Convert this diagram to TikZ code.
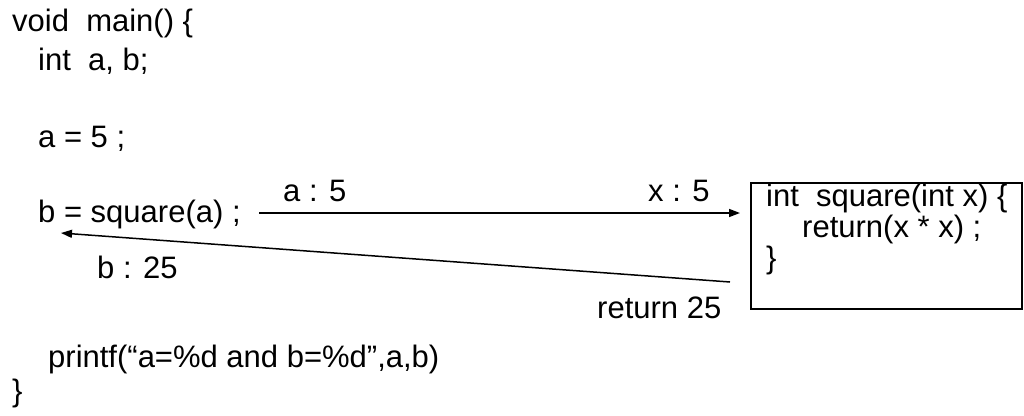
\documentclass[tikz,border=0pt]{standalone}
\usepackage{fontspec}
\setmainfont{Liberation Sans}
\usetikzlibrary{arrows.meta}
\begin{document}
\begin{tikzpicture}[x=1pt,y=-1pt,
  code/.style={anchor=base west,inner sep=0pt,font=\fontsize{31}{37}\selectfont},
  flow/.style={line width=1.5pt,-{Triangle[length=11pt,width=8pt]}},
  fnbox/.style={draw,line width=1.1pt}]
\useasboundingbox (0,0) rectangle (1024,415);
% main program
\node[code] (l1) at (12,31) {void\ \ main() \{};
\node[code] (l2) at (38,70) {int\ \ a, b;};
\node[code] (l3) at (38,147) {a = 5 ;};
\node[code] (l4) at (38,222) {b = square(a) ;};
\node[code] (l5) at (48,367) {printf(“a=\%d and b=\%d”,a,b)};
\node[code] (l6) at (12,401) {\}};
% function box
\draw[fnbox] (751,183) rectangle (1022,309);
\node[code] (f1) at (766,206) {int\ \ square(int x) \{};
\node[code] (f2) at (802,237) {return(x * x) ;};
\node[code] (f3) at (766,268) {\}};
% labels
\node[code] (la) at (283,201) {a : 5};
\node[code] (lx) at (648,201) {x : 5};
\node[code] (lb) at (97,278) {b : 25};
\node[code] (lr) at (597,318) {return 25};
% connectors
\coordinate (callS) at (259,213);
\coordinate (callE) at (740,213);
\coordinate (retS) at (730,282);
\coordinate (retE) at (61,233);
\draw[flow] (callS) -- (callE);
\draw[flow] (retS) -- (retE);
\end{tikzpicture}
\end{document}
